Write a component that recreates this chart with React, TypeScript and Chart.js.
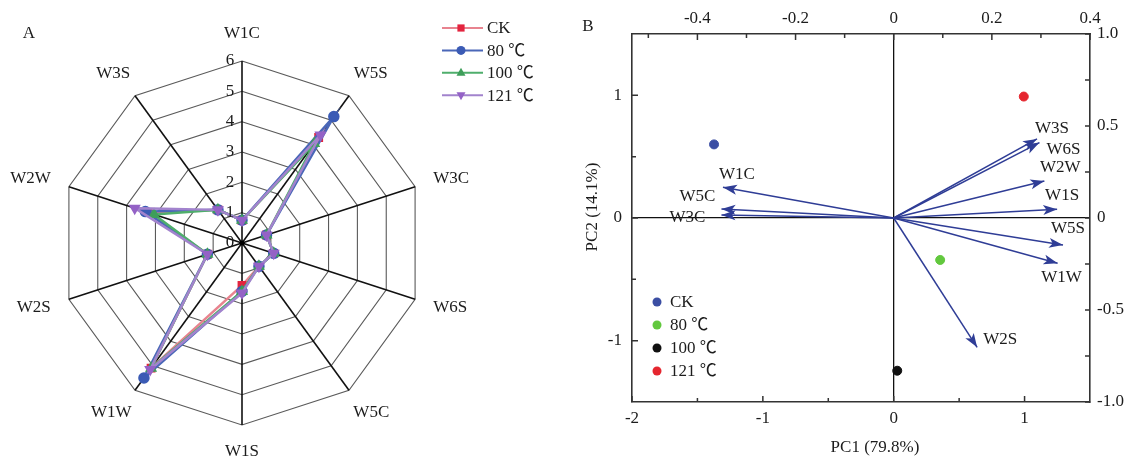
import React, { useEffect, useRef } from 'react';
import { Chart, registerables } from 'chart.js';

Chart.register(...registerables);

const FONT = "'Liberation Serif', 'Times New Roman', 'Noto Sans CJK SC', serif";
const TEXT = '#1c1c1c';

// ---------- Panel A: radar ----------
const RADAR_AXES = ['W1C', 'W5S', 'W3C', 'W6S', 'W5C', 'W1S', 'W1W', 'W2S', 'W2W', 'W3S'];
const RADAR_TICKS = [0, 1, 2, 3, 4, 5, 6];
const SERIES_NAMES = ['CK', '80 ℃', '100 ℃', '121 ℃'];
const CK_VALUES = [0.75, 4.3, 0.85, 1.1, 0.95, 1.4, 5.1, 1.2, 3.25, 1.35];
const T80_VALUES = [0.75, 5.15, 0.85, 1.1, 0.95, 1.6, 5.5, 1.2, 3.35, 1.35];
const T100_VALUES = [0.75, 4.05, 0.85, 1.1, 0.95, 1.6, 5.1, 1.2, 3.05, 1.35];
const T121_VALUES = [0.75, 4.4, 0.85, 1.1, 0.95, 1.65, 5.15, 1.2, 3.72, 1.35];

// ---------- Panel B: PCA biplot ----------
const SAMPLE_NAMES = ['CK', '80 ℃', '100 ℃', '121 ℃'];
const SAMPLE_PC1 = [-1.373, 0.355, 0.027, 0.994];
const SAMPLE_PC2 = [0.6, -0.342, -1.245, 0.99];
const VAR_NAMES = ['W1C', 'W5C', 'W3C', 'W3S', 'W6S', 'W2W', 'W1S', 'W5S', 'W1W', 'W2S'];
const VAR_LOAD1 = [-0.348, -0.351, -0.351, 0.292, 0.297, 0.307, 0.333, 0.345, 0.334, 0.17];
const VAR_LOAD2 = [0.167, 0.049, 0.016, 0.43, 0.41, 0.201, 0.047, -0.147, -0.246, -0.703];
const PC1_TICKS = [-2, -1, 0, 1];
const PC1_MINOR = [-1.5, -0.5, 0.5];
const PC2_TICKS = [-1, 0, 1];
const PC2_MINOR = [-0.5, 0.5];
const LOAD1_TICKS = [-0.4, -0.2, 0, 0.2, 0.4];
const LOAD1_MINOR = [-0.5, -0.3, -0.1, 0.1, 0.3];
const LOAD2_TICKS = [-1, -0.5, 0, 0.5, 1];
const LOAD2_MINOR = [-0.75, -0.25, 0.25, 0.75];

// styles
const RADAR_LINE = ['#e8838f', '#4a67b8', '#4fae6c', '#a283cd'];
const RADAR_POINT = ['#e3243e', '#3b5bb5', '#3e9e5a', '#9462c6'];
const RADAR_STYLE = ['rect', 'circle', 'triangle', 'triangleDown'];
const SAMPLE_COLORS = ['#3b4ea3', '#62c83e', '#111111', '#e5262f'];
const ARROW = '#2f3d96';
const VAR_LABEL_OFFSETS = [[14, -13], [-24, -12], [-34, 2], [15, -10], [24, 7], [16, -13], [5, -14], [5, -17], [4, 14], [23, -8]];

function drawMarker(ctx: CanvasRenderingContext2D, style: string, x: number, y: number, r: number, color: string) {
  ctx.save();
  ctx.fillStyle = color;
  ctx.beginPath();
  if (style === 'rect') {
    ctx.rect(x - r * 0.8, y - r * 0.8, r * 1.6, r * 1.6);
  } else if (style === 'circle') {
    ctx.arc(x, y, r, 0, Math.PI * 2);
  } else if (style === 'triangle') {
    ctx.moveTo(x, y - r * 1.1);
    ctx.lineTo(x + r, y + r * 0.65);
    ctx.lineTo(x - r, y + r * 0.65);
    ctx.closePath();
  } else {
    ctx.moveTo(x, y + r * 1.1);
    ctx.lineTo(x + r, y - r * 0.65);
    ctx.lineTo(x - r, y - r * 0.65);
    ctx.closePath();
  }
  ctx.fill();
  ctx.restore();
}

const radarExtras = {
  id: 'radarExtras',
  afterDraw(chart: any) {
    const ctx = chart.ctx as CanvasRenderingContext2D;
    const r = chart.scales.r;
    ctx.save();
    ctx.font = `17px ${FONT}`;
    ctx.fillStyle = TEXT;
    ctx.textAlign = 'center';
    ctx.textBaseline = 'middle';
    RADAR_TICKS.forEach((v) => {
      const d = r.getDistanceFromCenterForValue(v);
      ctx.fillText(String(v), r.xCenter - 12, r.yCenter - d);
    });
    const R = r.drawingArea;
    RADAR_AXES.forEach((lab, i) => {
      const a = r.getIndexAngle(i);
      const s = Math.sin(a);
      const c = Math.cos(a);
      const hw = ctx.measureText(lab).width / 2;
      const dist = R + 20;
      const x = r.xCenter + dist * s + hw * s;
      const y = r.yCenter - dist * c - 7 * c;
      ctx.fillText(lab, x, y);
    });
    // center dot
    ctx.fillStyle = '#000';
    ctx.beginPath();
    ctx.arc(r.xCenter, r.yCenter, 2.5, 0, Math.PI * 2);
    ctx.fill();
    // panel letter
    ctx.fillStyle = TEXT;
    ctx.font = `17px ${FONT}`;
    ctx.fillText('A', 29, 34);
    // legend
    ctx.textAlign = 'left';
    SERIES_NAMES.forEach((name, i) => {
      const y = 28 + i * 22.4;
      ctx.strokeStyle = RADAR_LINE[i];
      ctx.lineWidth = 2;
      ctx.beginPath();
      ctx.moveTo(442, y);
      ctx.lineTo(483, y);
      ctx.stroke();
      drawMarker(ctx, RADAR_STYLE[i], 461, y, 4.5, RADAR_POINT[i]);
      ctx.fillStyle = TEXT;
      ctx.fillText(name, 487, y + 1);
    });
    ctx.restore();
  },
};

function inward(ctx: CanvasRenderingContext2D, scale: any, values: number[], len: number, side: string, area: any) {
  ctx.beginPath();
  values.forEach((v) => {
    const p = scale.getPixelForValue(v);
    if (side === 'bottom') { ctx.moveTo(p, area.bottom); ctx.lineTo(p, area.bottom - len); }
    if (side === 'top') { ctx.moveTo(p, area.top); ctx.lineTo(p, area.top + len); }
    if (side === 'left') { ctx.moveTo(area.left, p); ctx.lineTo(area.left + len, p); }
    if (side === 'right') { ctx.moveTo(area.right, p); ctx.lineTo(area.right - len, p); }
  });
  ctx.stroke();
}

const biplotExtras = {
  id: 'biplotExtras',
  afterDatasetsDraw(chart: any) {
    const ctx = chart.ctx as CanvasRenderingContext2D;
    const area = chart.chartArea;
    const s = chart.scales;
    ctx.save();
    ctx.strokeStyle = '#333';
    ctx.lineWidth = 1.5;
    inward(ctx, s.x, PC1_TICKS, 6, 'bottom', area);
    inward(ctx, s.x, PC1_MINOR, 4, 'bottom', area);
    inward(ctx, s.y, PC2_TICKS, 6, 'left', area);
    inward(ctx, s.y, PC2_MINOR, 4, 'left', area);
    inward(ctx, s.x2, LOAD1_TICKS, 6, 'top', area);
    inward(ctx, s.x2, LOAD1_MINOR, 4, 'top', area);
    inward(ctx, s.y2, LOAD2_TICKS, 5, 'right', area);
    inward(ctx, s.y2, LOAD2_MINOR, 5, 'right', area);

    // arrowheads + labels
    ctx.font = `17px ${FONT}`;
    ctx.textAlign = 'center';
    ctx.textBaseline = 'middle';
    VAR_NAMES.forEach((name, i) => {
      const meta = chart.getDatasetMeta(i);
      const p0 = meta.data[0];
      const p1 = meta.data[1];
      const ang = Math.atan2(p1.y - p0.y, p1.x - p0.x);
      ctx.save();
      ctx.translate(p1.x, p1.y);
      ctx.rotate(ang);
      ctx.fillStyle = ARROW;
      ctx.beginPath();
      ctx.moveTo(0, 0);
      ctx.lineTo(-14, -5);
      ctx.lineTo(-10.5, 0);
      ctx.lineTo(-14, 5);
      ctx.closePath();
      ctx.fill();
      ctx.restore();
      const off = VAR_LABEL_OFFSETS[i];
      ctx.fillStyle = TEXT;
      ctx.fillText(name, p1.x + off[0], p1.y + off[1]);
    });

    // legend
    ctx.textAlign = 'left';
    SAMPLE_NAMES.forEach((name, i) => {
      const y = 302 + i * 23;
      ctx.fillStyle = SAMPLE_COLORS[i];
      ctx.beginPath();
      ctx.arc(87, y, 4.5, 0, Math.PI * 2);
      ctx.fill();
      ctx.fillStyle = TEXT;
      ctx.fillText(name, 100, y + 1);
    });

    // titles
    ctx.textAlign = 'center';
    ctx.fillText('B', 18, 27);
    ctx.fillText('PC1 (79.8%)', 305, 448);
    ctx.save();
    ctx.translate(23, 207);
    ctx.rotate(-Math.PI / 2);
    ctx.fillText('PC2 (14.1%)', 0, 0);
    ctx.restore();
    ctx.restore();
  },
};

const fmt = (v: number) => (v === 0 ? '0' : Number.isInteger(v) ? String(v) : v.toFixed(1));
const fmt1 = (v: number) => (v === 0 ? '0' : v.toFixed(1));
const zeroGrid = (c: any) => (c.tick && Math.abs(c.tick.value) < 1e-9 ? '#111' : 'rgba(0,0,0,0)');
const tickFont = { family: FONT, size: 17 };

export default function App() {
  const refA = useRef<HTMLCanvasElement>(null);
  const refB = useRef<HTMLCanvasElement>(null);

  useEffect(() => {
    const seriesValues = [CK_VALUES, T80_VALUES, T100_VALUES, T121_VALUES];
    const radar = new Chart(refA.current as HTMLCanvasElement, {
      type: 'radar',
      data: {
        labels: RADAR_AXES,
        datasets: SERIES_NAMES.map((name, i) => ({
          label: name,
          data: seriesValues[i],
          borderColor: RADAR_LINE[i],
          backgroundColor: 'rgba(0,0,0,0)',
          fill: false,
          borderWidth: 2.5,
          pointStyle: RADAR_STYLE[i] === 'triangleDown' ? 'triangle' : RADAR_STYLE[i],
          rotation: RADAR_STYLE[i] === 'triangleDown' ? 180 : 0,
          pointRadius: 4.5,
          pointBackgroundColor: RADAR_POINT[i],
          pointBorderColor: RADAR_POINT[i],
          order: 4 - i,
        })) as any,
      },
      options: {
        responsive: false,
        animation: false,
        layout: { padding: { left: 60, top: 61, right: 146, bottom: 39 } },
        plugins: { legend: { display: false }, tooltip: { enabled: false } },
        scales: {
          r: {
            min: 0,
            max: 6,
            ticks: { display: false, stepSize: 1 },
            pointLabels: { display: false },
            grid: { color: '#5a5a5a', lineWidth: 1.1 },
            angleLines: { color: '#111', lineWidth: 1.6 },
          },
        },
      } as any,
      plugins: [radarExtras],
    });

    const arrowSets = VAR_NAMES.map((name, i) => ({
      label: name,
      data: [{ x: 0, y: 0 }, { x: VAR_LOAD1[i], y: VAR_LOAD2[i] }],
      xAxisID: 'x2',
      yAxisID: 'y2',
      showLine: true,
      borderColor: ARROW,
      borderWidth: 1.5,
      pointRadius: 0,
      pointHoverRadius: 0,
    }));
    const sampleSets = SAMPLE_NAMES.map((name, i) => ({
      label: name,
      data: [{ x: SAMPLE_PC1[i], y: SAMPLE_PC2[i] }],
      xAxisID: 'x',
      yAxisID: 'y',
      backgroundColor: SAMPLE_COLORS[i],
      borderColor: SAMPLE_COLORS[i],
      pointRadius: 4.5,
    }));

    const biplot = new Chart(refB.current as HTMLCanvasElement, {
      type: 'scatter',
      data: { datasets: [...arrowSets, ...sampleSets] as any },
      options: {
        responsive: false,
        animation: false,
        layout: { padding: 0 },
        plugins: { legend: { display: false }, tooltip: { enabled: false } },
        scales: {
          x: {
            type: 'linear',
            position: 'bottom',
            min: -2,
            max: 1.5,
            afterBuildTicks: (sc: any) => { sc.ticks = PC1_TICKS.map((v) => ({ value: v })); },
            afterFit: (sc: any) => { sc.height = 62; },
            grid: { color: zeroGrid, lineWidth: 1.3, drawTicks: false },
            border: { display: true, color: '#333', width: 1.6 },
            ticks: { font: tickFont, color: TEXT, padding: 6, maxRotation: 0, callback: (v: any) => fmt(Number(v)) },
          },
          x2: {
            type: 'linear',
            position: 'top',
            min: -0.5333,
            max: 0.4,
            afterBuildTicks: (sc: any) => { sc.ticks = LOAD1_TICKS.map((v) => ({ value: v })); },
            afterFit: (sc: any) => { sc.height = 34; },
            grid: { display: false, drawTicks: false },
            border: { display: true, color: '#333', width: 1.6 },
            ticks: { font: tickFont, color: TEXT, padding: 5, maxRotation: 0, callback: (v: any) => fmt1(Number(v)) },
          },
          y: {
            type: 'linear',
            position: 'left',
            min: -1.5,
            max: 1.5,
            afterBuildTicks: (sc: any) => { sc.ticks = PC2_TICKS.map((v) => ({ value: v })); },
            afterFit: (sc: any) => { sc.width = 62; },
            grid: { color: zeroGrid, lineWidth: 1.3, drawTicks: false },
            border: { display: true, color: '#333', width: 1.6 },
            ticks: { font: tickFont, color: TEXT, padding: 10, callback: (v: any) => fmt(Number(v)) },
          },
          y2: {
            type: 'linear',
            position: 'right',
            min: -1,
            max: 1,
            afterBuildTicks: (sc: any) => { sc.ticks = LOAD2_TICKS.map((v) => ({ value: v })); },
            afterFit: (sc: any) => { sc.width = 39; },
            grid: { display: false, drawTicks: false },
            border: { display: true, color: '#333', width: 1.6 },
            ticks: { font: tickFont, color: TEXT, padding: 7, callback: (v: any) => fmt1(Number(v)) },
          },
        },
      } as any,
      plugins: [biplotExtras],
    });

    return () => {
      radar.destroy();
      biplot.destroy();
    };
  }, []);

  return (
    <div style={{ position: 'absolute', left: 0, top: 0, width: 1129, height: 464, background: '#fff', overflow: 'hidden' }}>
      <canvas ref={refA} width={570} height={464} style={{ position: 'absolute', left: 0, top: 0, width: 570, height: 464 }} />
      <canvas ref={refB} width={559} height={464} style={{ position: 'absolute', left: 570, top: 0, width: 559, height: 464 }} />
    </div>
  );
}
